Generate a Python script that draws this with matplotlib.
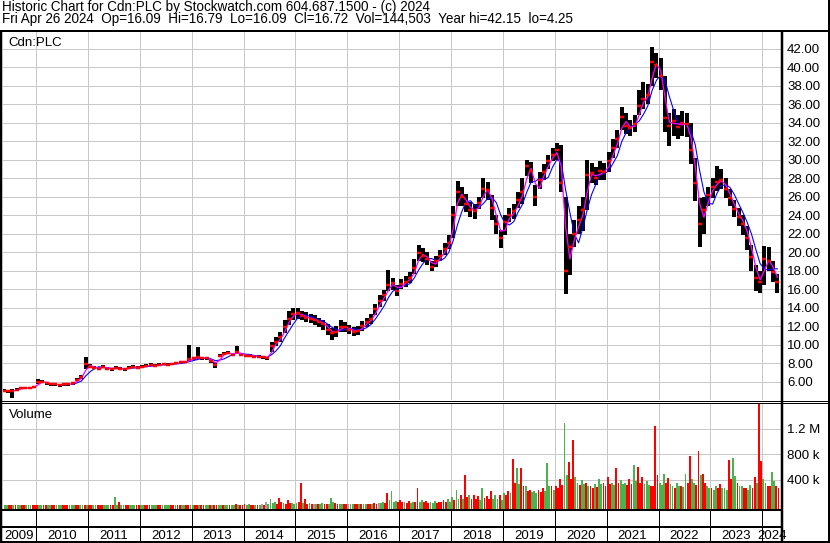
import numpy as np
import pandas as pd
import matplotlib
matplotlib.use("Agg")
import matplotlib.pyplot as plt

plt.rcParams['font.family'] = ['Liberation Sans', 'DejaVu Sans']

# monthly bars, May 2009 .. Apr 2024
start_month = "2009-05"
close = [
    5.0, 4.95, 5.0, 5.1, 5.3, 5.3, 5.3, 5.4,                          # 2009
    5.9, 6.0, 5.8, 5.7, 5.7, 5.6, 5.7, 5.7, 5.8, 6.2, 6.5, 7.9,       # 2010
    7.6, 7.5, 7.4, 7.6, 7.4, 7.3, 7.5, 7.4, 7.3, 7.5, 7.6, 7.5,       # 2011
    7.6, 7.7, 7.8, 7.7, 7.8, 7.9, 7.8, 7.9, 8.0, 8.1, 8.1, 8.4,       # 2012
    8.5, 8.6, 8.5, 8.5, 8.2, 7.8, 8.8, 9.0, 9.1, 8.9, 9.2, 8.9,       # 2013
    8.8, 8.8, 8.7, 8.7, 8.6, 8.5, 9.8, 10.3, 10.8, 11.9, 12.8, 13.3,  # 2014
    13.4, 13.1, 12.9, 12.8, 12.6, 12.4, 12.2, 11.6, 11.2, 11.4, 11.9, 11.9,
    11.6, 11.4, 11.5, 12.0, 12.4, 12.8, 13.8, 14.7, 15.3, 16.4, 16.6, 15.8,
    16.5, 16.8, 17.2, 18.3, 19.9, 19.6, 19.3, 18.4, 19.0, 19.6, 20.3, 21.0,
    24.0, 26.5, 26.0, 25.2, 24.5, 24.4, 25.3, 26.8, 26.7, 24.8, 23.0, 21.5,
    23.2, 24.0, 24.4, 25.6, 26.5, 29.3, 28.8, 26.0, 27.8, 28.7, 29.8, 30.5,
    31.0, 27.5, 18.0, 20.5, 22.0, 23.5, 24.5, 28.3, 28.5, 28.0, 28.8, 28.6,
    29.8, 31.2, 32.2, 34.6, 33.6, 33.4, 33.8, 35.8, 36.5, 37.0, 40.5, 40.2,
    39.0, 34.5, 33.6, 34.2, 33.5, 34.0, 33.8, 31.0, 27.5, 23.0, 24.5, 26.2,
    27.0, 27.6, 27.8, 26.8, 25.8, 24.6, 23.8, 23.0, 21.5, 19.5, 17.2, 16.8,
    19.2, 19.0, 17.8, 16.72,                                          # 2024
]
high = [
    5.15, 5.1, 5.15, 5.25, 5.45, 5.45, 5.45, 5.55,
    6.3, 6.15, 5.95, 5.85, 5.85, 5.75, 5.85, 5.85, 5.95, 6.35, 6.7, 8.6,
    7.9, 7.65, 7.55, 7.75, 7.55, 7.45, 7.65, 7.55, 7.45, 7.65, 7.75, 7.65,
    7.75, 7.85, 7.95, 7.85, 7.95, 8.05, 7.95, 8.05, 8.15, 8.25, 8.25, 9.9,
    8.65, 9.7, 8.65, 8.65, 8.35, 8.1, 8.95, 9.15, 9.3, 9.05, 9.8, 9.05,
    9.0, 8.95, 8.85, 8.9, 8.75, 8.7, 10.3, 10.8, 11.3, 12.6, 13.6, 14.0,
    14.0, 13.6, 13.5, 13.3, 13.2, 12.9, 12.7, 12.2, 11.8, 12.0, 12.7, 12.4,
    12.1, 11.9, 12.0, 12.5, 12.9, 13.3, 14.4, 15.3, 15.9, 18.1, 17.2, 16.4,
    17.1, 17.4, 17.8, 19.2, 20.8, 20.4, 20.0, 19.0, 19.6, 20.2, 21.0, 21.8,
    25.0, 27.7, 27.0, 26.3, 25.4, 25.2, 26.0, 28.0, 27.6, 26.2, 24.0, 22.4,
    24.0, 24.8, 25.2, 26.5, 28.0, 30.0, 29.7, 27.2, 28.6, 29.5, 30.5, 31.3,
    31.8, 31.6, 26.0, 22.0, 23.5, 25.0, 26.0, 30.0, 29.6, 29.2, 29.8, 29.6,
    30.8, 32.2, 33.2, 35.7, 35.0, 34.3, 34.8, 37.5, 38.4, 38.2, 42.15, 41.5,
    41.0, 39.0, 35.0, 35.5, 34.8, 35.2, 35.0, 34.0, 30.2, 25.8, 26.0, 27.0,
    28.0, 29.3, 29.0, 28.0, 26.8, 25.6, 24.8, 24.0, 22.8, 20.8, 18.6, 18.0,
    20.7, 20.5, 19.0, 17.6,
]
low = [
    4.85, 4.8, 4.25, 4.95, 5.15, 5.15, 5.15, 5.25,
    5.75, 5.85, 5.65, 5.55, 5.55, 5.45, 5.55, 5.55, 5.65, 6.05, 6.3, 7.4,
    7.45, 7.35, 7.25, 7.45, 7.25, 7.15, 7.35, 7.25, 7.15, 7.35, 7.45, 7.35,
    7.45, 7.55, 7.65, 7.55, 7.65, 7.75, 7.65, 7.75, 7.85, 7.95, 7.95, 8.25,
    8.35, 8.45, 8.35, 8.35, 8.0, 7.5, 8.6, 8.85, 8.95, 8.75, 9.05, 8.75,
    8.6, 8.65, 8.55, 8.5, 8.4, 8.3, 9.2, 9.8, 10.3, 11.2, 12.1, 12.6,
    12.8, 12.6, 12.4, 12.3, 12.1, 11.9, 11.6, 11.0, 10.5, 10.8, 11.4, 11.4,
    11.1, 10.9, 11.0, 11.5, 11.9, 12.2, 13.2, 14.1, 14.7, 15.8, 15.9, 15.2,
    16.0, 16.2, 16.6, 17.6, 19.0, 18.9, 18.6, 17.9, 18.4, 19.0, 19.7, 20.3,
    21.5, 25.0, 25.0, 24.3, 23.8, 23.6, 24.6, 25.8, 25.6, 23.5, 22.0, 20.4,
    21.8, 23.2, 23.6, 24.8, 25.2, 28.2, 27.5, 25.0, 26.8, 27.8, 29.0, 29.8,
    30.0, 26.5, 15.5, 17.5, 20.5, 22.0, 22.3, 24.5, 27.5, 27.2, 27.8, 27.8,
    28.6, 30.2, 31.2, 33.2, 32.8, 32.6, 33.0, 34.8, 35.5, 36.0, 38.0, 38.8,
    37.5, 33.0, 31.5, 32.5, 32.2, 32.6, 32.4, 29.5, 25.5, 20.5, 22.0, 25.0,
    25.8, 26.6, 26.8, 25.8, 25.0, 23.8, 22.8, 21.8, 20.2, 18.0, 15.8, 15.6,
    16.4, 18.0, 16.8, 15.6,
]
slow_ma_from = "2010-09"

# volume in thousands: two bars per month (largest day, typical day)
# u = up (green), d = down (red), n = unchanged (grey)
vol_peak = [
    10, 8, 12, 8, 10, 8, 10, 8,
    8, 10, 8, 10, 8, 10, 12, 8, 10, 8, 12, 10,
    10, 8, 10, 8, 10, 12, 139, 55, 10, 8, 10, 8,
    8, 10, 8, 10, 8, 10, 8, 10, 8, 10, 8, 10,
    8, 10, 8, 10, 8, 10, 8, 10, 12, 10, 22, 10,
    30, 28, 15, 15, 20, 60, 100, 50, 120, 40, 85, 40,
    40, 360, 100, 40, 30, 20, 40, 30, 125, 35, 30, 30,
    20, 30, 30, 25, 30, 30, 35, 40, 60, 200, 225, 70,
    90, 60, 70, 60, 280, 80, 70, 60, 70, 60, 80, 100,
    140, 250, 170, 480, 160, 170, 150, 270, 150, 220, 170, 160,
    200, 220, 720, 590, 590, 300, 250, 230, 250, 280, 660, 300,
    300, 410, 1290, 680, 1020, 350, 400, 350, 300, 330, 420, 350,
    440, 350, 590, 400, 350, 420, 640, 600, 450, 380, 300, 1240,
    350, 500, 430, 300, 350, 300, 500, 770, 350, 850, 500, 300,
    280, 300, 330, 280, 710, 740, 350, 300, 280, 320, 450, 1650,
    420, 300, 520, 300,
]
vol_peak_dir = ("duddudud dudududdudud duddudud udud udduduu dudu "
                "duddudduduud ddudd nnuudud uuddund udud udn udduddn "
                "uduudududu duu ddu uuddudduddud uddudu duddu ddd "
                "udduudduuddu duududd uddu uduudududd udududududud "
                "dududuudu dudududu udduu")
vol_base = [
    4, 5, 4, 5, 4, 5, 4, 5,
    5, 4, 5, 4, 5, 4, 5, 4, 5, 4, 5, 4,
    5, 4, 5, 4, 5, 4, 6, 5, 4, 5, 4, 5,
    4, 5, 4, 5, 4, 5, 4, 5, 4, 5, 4, 5,
    5, 6, 5, 6, 5, 6, 5, 6, 5, 6, 8, 6,
    15, 12, 10, 12, 15, 25, 40, 30, 50, 25, 40, 25,
    60, 40, 30, 25, 20, 20, 25, 30, 50, 25, 25, 20,
    20, 20, 25, 20, 25, 20, 30, 35, 40, 80, 60, 50,
    50, 40, 45, 50, 60, 50, 45, 40, 45, 50, 55, 60,
    90, 110, 100, 140, 100, 110, 90, 120, 100, 110, 100, 90,
    170, 200, 360, 340, 300, 220, 210, 190, 210, 230, 300, 240,
    270, 320, 480, 420, 450, 320, 340, 300, 280, 290, 340, 300,
    340, 320, 360, 340, 320, 330, 380, 360, 340, 320, 300, 480,
    320, 360, 340, 280, 300, 290, 360, 420, 320, 480, 360, 280,
    240, 270, 280, 240, 420, 460, 300, 270, 240, 280, 360, 690,
    360, 310, 380, 270,
]
vol_base_dir = ("uduuduud ududuuduuduud uduuduuduudu duuduuddudud "
                "uduuduuduudud uudu uddddudu dduudu udududu udud uduud "
                "ddudud duddduduud ddu ddu uudududduud uuuddudu duuddu "
                "ddudu dduduuddudu duududud uuduudu udududududu "
                "duddduduudduu duud")

price_ticks = np.arange(6, 43, 2)
vol_ticks = [400e3, 800e3, 1.2e6]
vol_tick_labels = ["400 k", "800 k", "1.2 M"]
years = np.arange(2009, 2025)

title1 = "Historic Chart for Cdn:PLC by Stockwatch.com 604.687.1500 - (c) 2024"
title2 = ("Fri Apr 26 2024  Op=16.09  Hi=16.79  Lo=16.09  Cl=16.72  "
          "Vol=144,503  Year hi=42.15  lo=4.25")

# ---------------------------------------------------------------------------
months = pd.period_range(start_month, periods=len(close), freq="M")
t = np.asarray(months.year + (months.month - 0.5) / 12.0)
px = pd.Series(close, index=months)
ma_fast = px.rolling(2, min_periods=1).mean()
ma_slow = px.rolling(4).mean()
ma_slow[ma_slow.index < pd.Period(slow_ma_from, "M")] = np.nan

peak_dir = vol_peak_dir.replace(" ", "")
base_dir = vol_base_dir.replace(" ", "")
dir_colors = {"u": "#4cb34c", "d": "#ff0000", "n": "#a0a0a0"}

W, H = 830, 543
def box(x0, y0, x1, y1):
    return [x0 / W, 1 - y1 / H, (x1 - x0) / W, (y1 - y0) / H]

PT = 72 / 100  # one pixel in points
FS = 9.5
XMIN, XMAX = 2009.364, 2024.380
GRID = "#c8c8c8"

fig = plt.figure(figsize=(W / 100, H / 100), dpi=100)
ax = fig.add_axes(box(3, 31, 782, 400))
axv = fig.add_axes(box(3, 403, 782, 509), sharex=ax)
axy = fig.add_axes(box(3, 510, 782, 542), sharex=ax)

for a in (ax, axv, axy):
    for s in a.spines.values():
        s.set_visible(False)
    a.set_xticks(years[1:])
    a.tick_params(axis="x", length=0, labelbottom=False)

# price panel
ax.set_xlim(XMIN, XMAX)
ax.set_ylim(4.0, 43.9)
ax.yaxis.tick_right()
ax.set_yticks(price_ticks)
ax.set_yticklabels([f"{v:.2f}" for v in price_ticks])
ax.tick_params(axis="y", length=0, pad=5 * PT, labelsize=FS)
ax.grid(True, color=GRID, lw=PT)
ax.set_axisbelow(True)
ax.vlines(t, low, high, color="black", lw=4 * PT, zorder=2)
ax.plot(t, ma_slow.values, color="#0000ff", lw=1.1 * PT, zorder=3)
ax.plot(t, ma_fast.values, color="#ff00ff", lw=1.3 * PT, zorder=4)
ax.plot(t, close, ls="none", marker="_", ms=4.5 * PT, mew=2.5 * PT,
        color="red", zorder=5)
ax.text(5 / 779, (400 - 46.5) / 369, "Cdn:PLC", transform=ax.transAxes,
        fontsize=FS, va="baseline", ha="left")

# volume panel
vol_floor = -53e3
axv.set_ylim(vol_floor, 1.6e6)
axv.yaxis.tick_right()
axv.set_yticks(vol_ticks)
axv.set_yticklabels(vol_tick_labels)
axv.tick_params(axis="y", length=0, pad=5 * PT, labelsize=FS)
axv.grid(True, color=GRID, lw=PT)
axv.set_axisbelow(True)
bar_w = 0.42 / 12
vp = np.array(vol_peak) * 1e3
vb = np.array(vol_base) * 1e3
axv.bar(t - 0.25 / 12, vp - vol_floor, bottom=vol_floor, width=bar_w,
        color=[dir_colors[c] for c in peak_dir], lw=0, zorder=2)
axv.bar(t + 0.25 / 12, vb - vol_floor, bottom=vol_floor, width=bar_w,
        color=[dir_colors[c] for c in base_dir], lw=0, zorder=2)
axv.text(6 / 779, (509 - 418) / 106, "Volume", transform=axv.transAxes,
         fontsize=FS, va="baseline", ha="left")

# year band
axy.set_ylim(0, 1)
axy.set_yticks([])
for y in years[1:]:
    axy.axvline(y, color="black", lw=PT)
for y in years:
    c = (max(y, XMIN) + min(y + 1, XMAX)) / 2
    axy.text(c, 0.085, str(y), fontsize=FS, ha="center", va="baseline")

# frame and header
fr = fig.add_axes([0, 0, 1, 1], zorder=10)
fr.set_xlim(0, W)
fr.set_ylim(H, 0)
fr.axis("off")
fr.patch.set_alpha(0)
def hline(y, x0, x1, w):
    fr.plot([x0, x1], [y, y], color="black", lw=w * PT, solid_capstyle="butt")
def vline(x, y0, y1, w):
    fr.plot([x, x], [y0, y1], color="black", lw=w * PT, solid_capstyle="butt")
hline(30.5, 0, W, 2)
hline(400.5, 0, W, 1)
hline(402.5, 0, W, 1)
hline(509.5, 0, 782, 2)
hline(527, 0, 782, 2)
hline(542, 0, W, 2)
vline(1.2, 30, H, 2.5)
vline(782, 30, H, 2.5)
vline(828.5, 0, H, 2)
fr.text(2, 10.5, title1, fontsize=9.75, va="baseline", ha="left")
fr.text(2, 23, title2, fontsize=9.75, va="baseline", ha="left")

fig.savefig("out.png", dpi=100, facecolor="white")
